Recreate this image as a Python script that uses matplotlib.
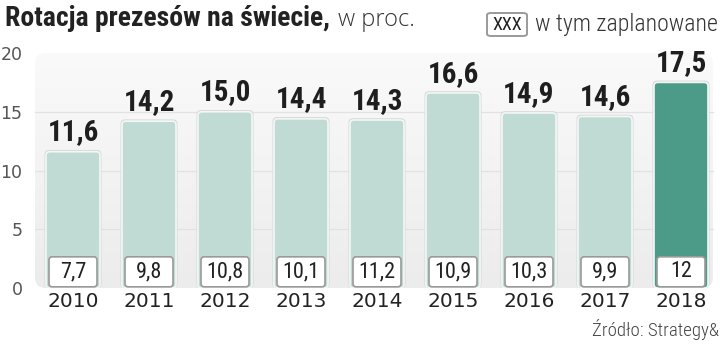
import matplotlib
matplotlib.use("Agg")
import numpy as np
import matplotlib.pyplot as plt
from matplotlib.patches import FancyBboxPatch
from matplotlib.colors import LinearSegmentedColormap
from matplotlib import font_manager as fm

years = ["2010", "2011", "2012", "2013", "2014", "2015", "2016", "2017", "2018"]
total = [11.6, 14.2, 15.0, 14.4, 14.3, 16.6, 14.9, 14.6, 17.5]
planned = ["7,7", "9,8", "10,8", "10,1", "11,2", "10,9", "10,3", "9,9", "12"]
yticks = [0, 5, 10, 15, 20]

names = {f.name for f in fm.fontManager.ttflist}


def pick(cands, default="DejaVu Sans"):
    for c in cands:
        if c in names:
            return c
    return default


COND = pick(["Roboto Condensed", "Fira Sans Condensed", "PT Sans Narrow",
             "Open Sans Condensed", "Archivo Narrow", "Liberation Sans Narrow",
             "Encode Sans Condensed", "Barlow Condensed"])
SANS = pick(["Open Sans", "Noto Sans"])
plt.rcParams["font.family"] = [COND, "DejaVu Sans"]

W, H = 720, 346
fig = plt.figure(figsize=(W / 100, H / 100), dpi=100)
fig.patch.set_facecolor("white")
renderer = fig.canvas.get_renderer()


def fit(txt, width_px):
    """Scale a text's font size so its rendered width equals width_px."""
    bb = txt.get_window_extent(renderer=renderer)
    txt.set_fontsize(txt.get_fontsize() * width_px / bb.width)
    return txt


# axes placed in pixel terms
ax_l, ax_r, ax_b, ax_t = 35, 719, 288, 49.5
ax = fig.add_axes([ax_l / W, (H - ax_b) / H, (ax_r - ax_l) / W, (ax_b - ax_t) / H])
ax.set_xlim(-0.5, 8.5)
ax.set_ylim(0, 20.3)
ax.set_facecolor("none")
for s in ax.spines.values():
    s.set_visible(False)

px_x = 9.0 / (ax_r - ax_l)
px_y = 20.3 / (ax_b - ax_t)
asp = px_y / px_x

# background panel with vertical gradient
panel = FancyBboxPatch((-0.5, 0), 8.92, 20.0, boxstyle="round,pad=0,rounding_size=0.14",
                       mutation_aspect=asp, fc="none", ec="none", zorder=0)
ax.add_patch(panel)
grad = np.linspace(0, 1, 256).reshape(-1, 1)
cmap = LinearSegmentedColormap.from_list("bg", ["#ececec", "#fafafa"])
im = ax.imshow(grad, extent=(-0.5, 8.42, 0, 20.0), origin="lower", cmap=cmap,
               aspect="auto", zorder=0)
im.set_clip_path(panel)
for y in yticks[1:4]:
    ax.plot([-0.5, 8.42], [y, y], color="#e2e2e2", lw=0.9, zorder=1)

ax.set_yticks(yticks)
ax.set_yticklabels([str(v) for v in yticks], fontsize=12.5, color="#555555",
                   family=["DejaVu Sans"])
ax.tick_params(axis="y", length=0, pad=9)
ax.set_xticks(range(len(years)))
ax.set_xticklabels(years, fontsize=14.5, color="#222222", family=["DejaVu Sans"])
ax.tick_params(axis="x", length=0, pad=3)

bw = 54 * px_x
bh_w = 48 * px_x
for i, (v, p) in enumerate(zip(total, planned)):
    last = i == len(years) - 1
    fc = "#4c9a88" if last else "#c0dbd3"
    sh = FancyBboxPatch((i - bw / 2 - 1.5 * px_x, -0.05), bw + 3 * px_x, v + 0.2,
                        boxstyle="round,pad=0,rounding_size=0.06", mutation_aspect=asp,
                        fc="#d6dad9", ec="none", zorder=2)
    ax.add_patch(sh)
    bar = FancyBboxPatch((i - bw / 2, 0), bw, v, boxstyle="round,pad=0,rounding_size=0.05",
                         mutation_aspect=asp, fc=fc, ec="#f4f7f6", lw=1.2, zorder=3)
    ax.add_patch(bar)
    ax.text(i, v + 0.45, f"{v:.1f}".replace(".", ","), ha="center", va="bottom",
            fontsize=21, fontweight="bold", color="#1e1e1e", zorder=5)
    box = FancyBboxPatch((i - bh_w / 2, 0.1), bh_w, 30 * px_y,
                         boxstyle="round,pad=0,rounding_size=0.04", mutation_aspect=asp,
                         fc="white", ec="#9a9a9a", lw=1.2, zorder=4)
    ax.add_patch(box)
    ax.text(i, 0.1 + 15 * px_y, p, ha="center", va="center", fontsize=16,
            color="#222222", zorder=5)

# title
t1 = fig.text(5 / W, 1 - 26 / H, "Rotacja prezesów na świecie,", fontsize=24,
              fontweight="bold", color="#222222", va="baseline")
fit(t1, 326)
t2 = fig.text(338 / W, 1 - 26 / H, "w proc.", fontsize=18, color="#333333",
              va="baseline", family=[SANS, "DejaVu Sans"], fontweight="light")
fit(t2, 77)

# legend
lx0, ly0, lw_, lh = 487, 13, 40, 23
leg = FancyBboxPatch((lx0 / W, 1 - (ly0 + lh) / H), lw_ / W, lh / H,
                     boxstyle="round,pad=0,rounding_size=0.006", transform=fig.transFigure,
                     fc="white", ec="#9a9a9a", lw=1.4)
fig.patches.append(leg)
fig.text((lx0 + lw_ / 2) / W, 1 - (ly0 + lh / 2) / H, "XXX", fontsize=13, ha="center",
         va="center", color="#222222")
t3 = fig.text(535 / W, 1 - 25 / H, "w tym zaplanowane", fontsize=16, color="#333333",
              va="center", fontweight="light")
fit(t3, 182)

t4 = fig.text(592 / W, 1 - 330 / H, "Źródło: Strategy&", fontsize=13, color="#444444",
              ha="left", va="center", fontweight="light")
fit(t4, 126)

fig.savefig("out.png", dpi=100)
